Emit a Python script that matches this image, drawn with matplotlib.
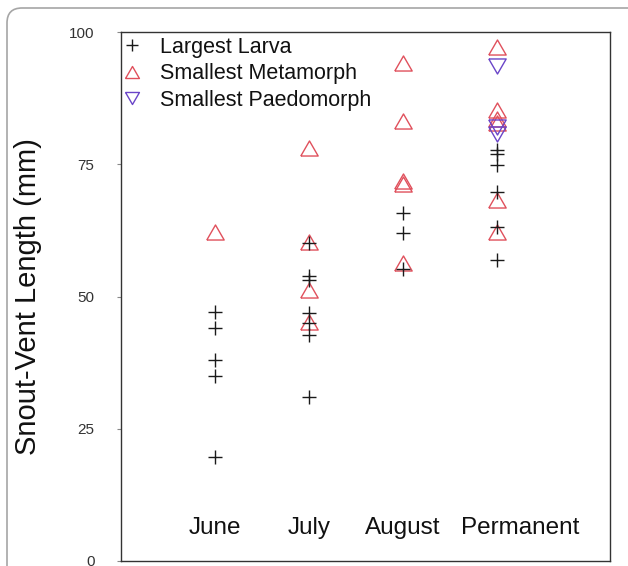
import numpy as np
import matplotlib
matplotlib.use("Agg")
import matplotlib.pyplot as plt
from matplotlib.patches import FancyBboxPatch

plt.rcParams['font.family'] = ['Liberation Sans', 'DejaVu Sans']

categories = ["June", "July", "August", "Permanent"]

larva_june = [47, 44, 38, 35, 19.7]
larva_july = [60.1, 53.9, 53.1, 46.9, 45.0, 42.7, 31.0]
larva_august = [65.8, 62.0, 55.2]
larva_perm = [77.7, 76.9, 74.9, 69.8, 63.1, 56.9]

meta_june = [62.2]
meta_july = [78.1, 60.3, 51.2, 45.2]
meta_august = [94.1, 83.2, 71.8, 71.2, 56.3]
meta_perm = [97.2, 85.3, 83.5, 82.8, 68.2, 62.2]

paedo_perm = [93.5, 82.0, 80.8]

yticks = [0, 25, 50, 75, 100]

W, H, DPI = 628, 566, 100
fig = plt.figure(figsize=(W / DPI, H / DPI), dpi=DPI)

# background frame (rounded border)
bg = fig.add_axes([0, 0, 1, 1], zorder=-5)
bg.set_xlim(0, W)
bg.set_ylim(H, 0)
bg.axis('off')
bg.add_patch(FancyBboxPatch((7, 8), 640, 600,
                            boxstyle="round,pad=0,rounding_size=15",
                            fc='white', ec='#a6a6a6', lw=1.2))

left, right, top, bottom = 121, 610, 32, 561
ax = fig.add_axes([left / W, 1 - bottom / H, (right - left) / W, (bottom - top) / H])
ax.set_facecolor('none')

tri_up = [(-1, -0.866), (1, -0.866), (0, 0.866), (-1, -0.866)]
tri_dn = [(-1, 0.866), (1, 0.866), (0, -0.866), (-1, 0.866)]

red = '#e0505c'
purple = '#6a45c8'
black = '#1a1a1a'

larva = [larva_june, larva_july, larva_august, larva_perm]
meta = [meta_june, meta_july, meta_august, meta_perm]
paedo = [[], [], [], paedo_perm]

def flat(groups):
    xs, ys = [], []
    for i, g in enumerate(groups):
        xs += [i + 1] * len(g)
        ys += list(g)
    return xs, ys

x, y = flat(larva)
ax.plot(x, y, ls='none', marker='+', ms=10, mew=1.0, color=black, label='Largest Larva', zorder=3)
x, y = flat(meta)
ax.plot(x, y, ls='none', marker=tri_up, ms=12.5, mew=1.0, mfc='none', mec=red, label='Smallest Metamorph', zorder=2)
x, y = flat(paedo)
ax.plot(x, y, ls='none', marker=tri_dn, ms=12.5, mew=1.0, mfc='none', mec=purple, label='Smallest Paedomorph', zorder=2)

for i, c in enumerate(categories):
    xpos = i + 1
    if i == len(categories) - 1:
        xpos += 0.25  # last label sits right of its column, as in the original
    ax.text(xpos, 6.2, c, ha='center', va='center', fontsize=17.5, color='#111111')

ax.set_xlim(0, 5.2)
ax.set_ylim(0, 100)
ax.set_xticks([])
ax.set_yticks(yticks)
ax.set_yticklabels([str(t) for t in yticks])
ax.tick_params(axis='y', direction='out', length=3, width=0.8, color='#888888',
               pad=16, labelsize=11, labelcolor='#333333')
for s in ax.spines.values():
    s.set_color('#333333')
    s.set_linewidth(1.0)

ax.set_ylabel('Snout-Vent Length (mm)', fontsize=21, color='#111111', labelpad=8)
ax.yaxis.set_label_coords(-(left - 42) / (right - left), 0.5)

leg = ax.legend(loc='upper left', bbox_to_anchor=(0.008, 0.993), frameon=False,
                fontsize=15.5, markerscale=0.8, handlelength=0.55, handletextpad=1.05,
                borderpad=0.05, borderaxespad=0, labelspacing=0.26)
for t in leg.get_texts():
    t.set_color('#111111')

fig.savefig('out.png', dpi=DPI)
